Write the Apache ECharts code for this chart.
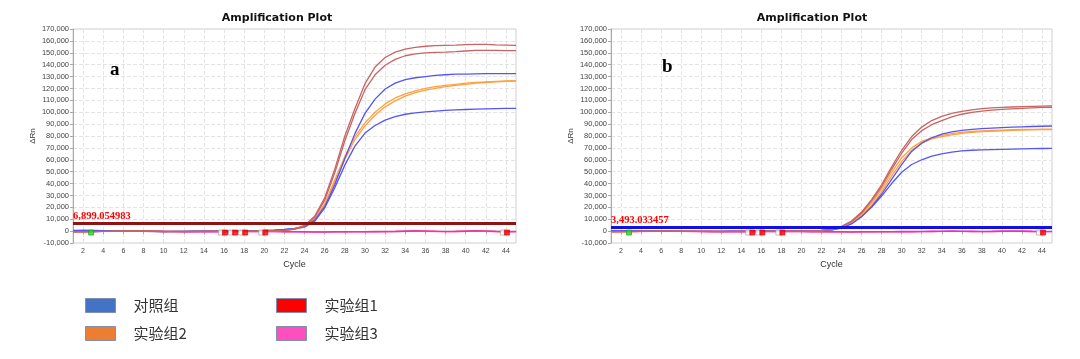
<!DOCTYPE html>
<html><head><meta charset="utf-8">
<script src="https://cdn.jsdelivr.net/npm/echarts@6/dist/echarts.min.js"></script>
<style>html,body{margin:0;padding:0;background:#fff}#c{width:1080px;height:359px}</style>
</head><body><div id="c"></div>
<script>
const cycles = [1,2,3,4,5,6,7,8,9,10,11,12,13,14,15,16,17,18,19,20,21,22,23,24,25,26,27,28,29,30,31,32,33,34,35,36,37,38,39,40,41,42,43,44,45];
const xTicks = [2,4,6,8,10,12,14,16,18,20,22,24,26,28,30,32,34,36,38,40,42,44];
const legendNames = ['对照组','实验组2','实验组1','实验组3'];
const legendColors = ['#4472C4','#ED7D31','#FF0000','#FF4FBF'];

// Panel a
const aRed1 = [-600,-500,-400,-200,0,100,200,100,-100,-300,-400,-400,-300,-300,-200,-200,-100,-100,0,100,300,700,1800,4800,12500,28000,52000,80000,103000,124000,138000,146000,150500,153000,154500,155500,156000,156300,156500,156800,157000,157000,156700,156500,156300];
const aRed2 = [-700,-600,-400,-300,-100,0,100,0,-200,-300,-400,-500,-400,-300,-300,-200,-200,-100,0,100,200,600,1600,4300,11500,26000,49000,76000,99000,119000,131500,139500,144500,147500,149000,150000,150300,150600,151000,151500,152000,152000,152000,151800,151800];
const aBlue1 = [500,600,500,400,300,200,0,-200,-300,-400,-300,-200,-100,0,0,100,200,300,400,600,900,1400,2200,3800,9000,20500,39000,61000,82000,99000,111000,119500,124500,127500,129000,130000,131000,131500,132000,132000,132200,132400,132500,132500,132500];
const aBlue2 = [400,500,400,300,200,100,-100,-300,-400,-400,-300,-200,-100,0,100,100,200,300,400,500,800,1200,2000,3300,8300,19500,36500,55500,71500,82500,88800,93300,96300,98300,99500,100300,101000,101500,102000,102300,102600,102800,103000,103200,103300];
const aOrange1 = [-800,-700,-500,-300,-100,0,100,0,-200,-300,-300,-300,-200,-200,-100,-100,0,0,100,200,400,800,1700,4000,10000,23000,43000,63000,79500,91000,100000,107000,112000,115500,118000,120000,121500,122500,123500,124500,125000,125500,126000,126300,126500];
const aOrange2 = [-700,-600,-500,-300,-200,-100,0,-100,-200,-300,-400,-300,-300,-200,-200,-100,-100,0,100,200,300,700,1500,3700,9400,21800,41000,60500,77000,88500,97500,104500,109500,113500,116500,118500,120000,121500,122500,123500,124500,125000,125500,126000,126200];
const aPink1 = [-300,-200,-100,0,100,200,200,100,0,-200,-300,-400,-500,-500,-400,-400,-300,-300,-200,-200,-300,-400,-500,-600,-700,-700,-600,-600,-500,-500,-400,-300,-200,0,200,100,-100,-300,-200,0,200,100,-200,-400,-300];
const aPink2 = [-500,-400,-300,-200,-100,0,0,-100,-200,-300,-400,-500,-600,-600,-500,-500,-400,-400,-300,-300,-400,-500,-600,-700,-800,-800,-700,-700,-600,-600,-500,-500,-400,-200,0,-100,-300,-400,-300,-200,0,-100,-300,-500,-500];
const aThreshold = 6899.054983;
const aThresholdLabel = '6,899.054983';
const aGreenMarks = [[2.8,-1200]];
const aRedMarks = [[16.1,-1200],[17.1,-1200],[18.1,-1200],[20.1,-1200],[44.1,-1200]];
const aWhiteMarks = [[15.7,-1200],[16.7,-1200],[17.7,-1200],[19.7,-1200],[43.7,-1200]];

// Panel b
const bRed1 = [-400,-300,-200,-100,0,100,100,0,-100,-200,-300,-300,-200,-200,-100,-100,0,0,100,100,200,400,1500,4000,8500,16000,26500,39000,54000,68000,79500,87500,93000,96500,99000,100800,102000,103000,103600,104100,104400,104700,104900,105100,105300];
const bRed2 = [-500,-400,-300,-200,-100,0,0,-100,-200,-300,-300,-400,-300,-200,-200,-100,-100,0,0,100,200,300,1300,3700,8000,15200,25500,37500,52000,65500,77000,84500,89500,93000,96000,98300,99800,100900,101700,102400,102900,103300,103700,104000,104200];
const bBlue1 = [300,400,300,200,100,0,-100,-200,-300,-300,-200,-200,-100,0,0,100,100,200,200,300,400,600,1000,2600,6000,12000,20500,31000,43500,56000,67000,74000,78500,81500,83500,84800,85600,86200,86700,87100,87400,87700,88000,88200,88400];
const bBlue2 = [200,300,200,100,0,-100,-200,-300,-300,-200,-200,-100,0,0,100,100,200,200,300,300,400,500,900,3000,6500,12500,20000,29500,40000,49500,56000,60000,63000,65000,66500,67500,68000,68300,68500,68700,68900,69100,69300,69500,69600];
const bOrange1 = [-600,-500,-400,-300,-200,-100,0,0,-100,-200,-300,-300,-200,-200,-100,-100,0,0,100,200,300,500,1200,3200,7500,14500,23500,35500,49500,61500,70000,75500,78500,80500,82000,83000,83800,84300,84700,85000,85300,85500,85600,85700,85700];
const bOrange2 = [-700,-600,-500,-300,-200,-100,-100,-100,-200,-300,-300,-300,-300,-200,-200,-100,-100,0,0,100,200,400,1000,2900,7000,13500,21500,33000,46500,58500,68000,74000,77500,79500,81000,82200,83000,83600,84000,84400,84700,85000,85200,85300,85400];
const bPink1 = [-400,-300,-200,-100,0,100,100,0,-100,-300,-400,-500,-500,-400,-400,-300,-300,-200,-200,-300,-400,-500,-600,-600,-700,-600,-600,-500,-500,-400,-400,-300,-200,-100,0,-100,-200,-300,-200,0,100,0,-200,-300,-300];
const bPink2 = [-600,-500,-400,-300,-200,-100,-100,-200,-300,-400,-500,-600,-600,-500,-500,-400,-400,-300,-300,-400,-500,-600,-700,-700,-800,-700,-700,-600,-600,-500,-500,-400,-300,-200,-100,-200,-300,-400,-300,-200,-100,-200,-300,-400,-400];
const bThreshold = 3493.033457;
const bThresholdLabel = '3,493.033457';
const bGreenMarks = [[2.8,-1200]];
const bRedMarks = [[15.1,-1200],[16.1,-1200],[18.1,-1200],[44.1,-1200]];
const bWhiteMarks = [[14.7,-1200],[15.7,-1200],[17.7,-1200],[43.7,-1200]];

const curveColors = {red:'#C86464', blue:'#5555F5', orange:'#FFA040', pink:'#F0329A', pink2:'#FF6FC0'};

function pts(arr){ return cycles.map((c,i)=>[c, arr[i]]); }
function line(idx, arr, color, z, w){
  return {type:'line', xAxisIndex:idx, yAxisIndex:idx, data:pts(arr), showSymbol:false, symbol:'none',
    lineStyle:{color:color, width:w||1.3}, z:z||2, silent:true, animation:false};
}
function marks(idx, data, color, border){
  return {type:'scatter', xAxisIndex:idx, yAxisIndex:idx, data:data, symbol:'rect', symbolSize:5,
    itemStyle:{color:color, borderColor:border, borderWidth:0.8}, z:6, silent:true, animation:false};
}
function thresh(idx, val, label, color){
  return {type:'line', xAxisIndex:idx, yAxisIndex:idx, data:[], silent:true, animation:false,
    markLine:{symbol:'none', silent:true, animation:false,
      data:[{yAxis:val}],
      lineStyle:{color:color, width:3, type:'solid'},
      label:{show:true, position:'insideStartTop', formatter:label, distance:[0,1],
        fontFamily:'Liberation Serif', fontSize:10.5, fontWeight:'bold', color:'#FF0000'}}};
}

const grids = [
  {left:73, width:443, top:29, height:214},
  {left:611, width:441, top:29, height:214}
];
function xAx(i){
  return {type:'value', gridIndex:i, min:1, max:45, name:'Cycle', nameLocation:'middle', nameGap:17,
    nameTextStyle:{fontSize:9, color:'#333', fontFamily:'Liberation Sans'},
    axisLine:{lineStyle:{color:'#aaa'}}, axisTick:{customValues:xTicks, length:3, lineStyle:{color:'#aaa'}},
    axisLabel:{customValues:xTicks, fontSize:7, color:'#444', margin:5, fontFamily:'Liberation Sans'},
    splitLine:{show:true, lineStyle:{color:'#e4e4e4', type:'dashed', width:1}}};
}
function yAx(i){
  return {type:'value', gridIndex:i, min:-10000, max:170000, interval:10000, name:'ΔRn', nameLocation:'middle', nameGap:36,
    nameTextStyle:{fontSize:8, color:'#333', fontFamily:'Liberation Sans'},
    axisLine:{show:true, lineStyle:{color:'#aaa'}}, axisTick:{show:true, length:3, lineStyle:{color:'#aaa'}},
    axisLabel:{fontSize:7.5, color:'#444', margin:4, fontFamily:'Liberation Sans',
      formatter:v=>v.toLocaleString('en-US')},
    splitLine:{show:true, lineStyle:{color:'#e4e4e4', type:'dashed', width:1}}};
}

const series = [
  line(0,aPink2,curveColors.pink2,2,1.4), line(0,aPink1,curveColors.pink,2,1.6),
  line(0,aBlue2,curveColors.blue), line(0,aOrange2,curveColors.orange), line(0,aOrange1,curveColors.orange),
  line(0,aBlue1,curveColors.blue), line(0,aRed2,curveColors.red), line(0,aRed1,curveColors.red),
  thresh(0,aThreshold,aThresholdLabel,'#8E1414'),
  marks(0,aGreenMarks,'#22DD22','#119911'), marks(0,aWhiteMarks,'#ffffff','#999'), marks(0,aRedMarks,'#FF0000','#cc0000'),
  line(1,bPink2,curveColors.pink2,2,1.4), line(1,bPink1,curveColors.pink,2,1.6),
  line(1,bBlue2,curveColors.blue), line(1,bOrange2,curveColors.orange), line(1,bOrange1,curveColors.orange),
  line(1,bBlue1,curveColors.blue), line(1,bRed2,curveColors.red), line(1,bRed1,curveColors.red),
  thresh(1,bThreshold,bThresholdLabel,'#1010EE'),
  marks(1,bGreenMarks,'#22DD22','#119911'), marks(1,bWhiteMarks,'#ffffff','#999'), marks(1,bRedMarks,'#FF0000','#cc0000')
];
legendNames.forEach((n,i)=>{
  series.push({type:'line', name:n, xAxisIndex:0, yAxisIndex:0, data:[], color:legendColors[i],
    itemStyle:{color:legendColors[i]}, lineStyle:{color:legendColors[i]}});
});
function legendItems(names){
  return names.map(n=>({name:n, icon:'rect', itemStyle:{borderColor:'#7f8fb0', borderWidth:1}}));
}

const option = {
  backgroundColor:'#fff',
  animation:false,
  title:[
    {text:'Amplification Plot', left:272, top:8, textAlign:'center', textStyle:{fontSize:11, fontWeight:'bold', color:'#111', fontFamily:'DejaVu Sans'}},
    {text:'Amplification Plot', left:807, top:8, textAlign:'center', textStyle:{fontSize:11, fontWeight:'bold', color:'#111', fontFamily:'DejaVu Sans'}},
    {text:'a', left:105, top:56, textStyle:{fontSize:19, fontWeight:'bold', color:'#000', fontFamily:'Liberation Serif'}},
    {text:'b', left:657, top:53, textStyle:{fontSize:19, fontWeight:'bold', color:'#000', fontFamily:'Liberation Serif'}}
  ],
  grid: grids.map(g=>Object.assign({show:true, borderColor:'#cfcfcf', borderWidth:1, backgroundColor:'#fff'}, g)),
  xAxis:[xAx(0), xAx(1)],
  yAxis:[yAx(0), yAx(1)],
  legend:[
    {data:legendItems([legendNames[0],legendNames[1]]), left:85, top:298, orient:'vertical', itemWidth:30, itemHeight:14, itemGap:13,
      padding:0, selectedMode:false, textStyle:{fontSize:15, color:'#333', fontFamily:'Noto Sans CJK SC', padding:[0,0,0,13]}},
    {data:legendItems([legendNames[2],legendNames[3]]), left:276, top:298, orient:'vertical', itemWidth:30, itemHeight:14, itemGap:13,
      padding:0, selectedMode:false, textStyle:{fontSize:15, color:'#333', fontFamily:'Noto Sans CJK SC', padding:[0,0,0,13]}}
  ],
  series: series
};
const chart = echarts.init(document.getElementById('c'), null, {renderer:'canvas'});
chart.setOption(option);
</script></body></html>
